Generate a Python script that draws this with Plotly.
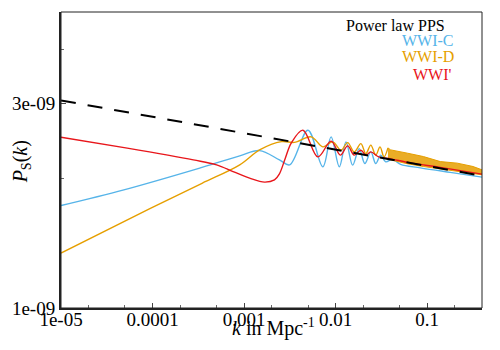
import plotly.graph_objects as go

# power law PPS (straight line in log-log)
pl_k = [1e-05, 0.3969]
pl_p = [3.043e-9, 2.031e-9]

# WWI-C
c_k = [1e-05, 4.860e-05, 0.0003468, 0.0008959, 0.001476, 0.002432, 0.003147, 0.004982,
       0.007246, 0.008915, 0.01097, 0.01297, 0.01533, 0.01807, 0.02084, 0.02421, 0.02743,
       0.03107, 0.03521, 0.04193, 0.05121, 0.08438, 0.1785, 0.3969]
c_p = [1.732e-9, 1.884e-9, 2.125e-9, 2.260e-9, 2.325e-9, 2.212e-9, 2.154e-9, 2.594e-9,
       2.131e-9, 2.503e-9, 2.131e-9, 2.436e-9, 2.151e-9, 2.350e-9, 2.169e-9, 2.309e-9,
       2.169e-9, 2.269e-9, 2.189e-9, 2.218e-9, 2.160e-9, 2.120e-9, 2.069e-9, 2.017e-9]

# WWI-D, resolved oscillations
d_k = [1e-05, 9.465e-05, 0.0003468, 0.0008959, 0.001476, 0.002557, 0.003538,
       0.00541, 0.007246, 0.009302, 0.01144, 0.01353, 0.01595, 0.01886, 0.02137, 0.02421,
       0.02743, 0.03054, 0.03375, 0.03729]
d_p = [1.342e-9, 1.706e-9, 1.951e-9, 2.154e-9, 2.334e-9, 2.440e-9, 2.430e-9,
       2.503e-9, 2.372e-9, 2.436e-9, 2.330e-9, 2.427e-9, 2.309e-9, 2.414e-9, 2.288e-9,
       2.394e-9, 2.269e-9, 2.372e-9, 2.248e-9, 2.359e-9]

# WWI-D, fast oscillations at high k: upper and lower envelope
du_k = [0.03729, 0.03989, 0.06099, 0.09095, 0.139, 0.2126, 0.317, 0.3969]
du_p = [2.359e-9, 2.334e-9, 2.293e-9, 2.252e-9, 2.192e-9, 2.174e-9, 2.135e-9, 2.097e-9]
dl_k = [0.03729, 0.03989, 0.06099, 0.09095, 0.139, 0.2126, 0.3969]
dl_p = [2.242e-9, 2.213e-9, 2.166e-9, 2.135e-9, 2.108e-9, 2.078e-9, 2.042e-9]

# WWI'
r_k = [1e-05, 5.290e-05, 2.791e-04, 5.007e-04, 7.578e-04, 1.150e-03, 1.673e-03, 2.147e-03,
       2.432e-03, 2.826e-03, 0.003283, 0.004397, 0.006395, 0.008915, 0.01125, 0.01353,
       0.01595, 0.01886, 0.02137, 0.02421, 0.02956, 0.03989, 0.06573, 0.139, 0.3969]
r_p = [2.498e-9, 2.356e-9, 2.212e-9, 2.154e-9, 2.078e-9, 2.006e-9, 1.964e-9, 1.988e-9,
       2.053e-9, 2.236e-9, 2.423e-9, 2.594e-9, 2.248e-9, 2.446e-9, 2.269e-9, 2.385e-9,
       2.269e-9, 2.330e-9, 2.269e-9, 2.309e-9, 2.248e-9, 2.224e-9, 2.177e-9, 2.125e-9,
       2.049e-9]

x_ticks = [1e-05, 1e-04, 1e-03, 1e-02, 1e-01]
x_ticktext = ["1e-05", "0.0001", "0.001", "0.01", "0.1"]
x_minor = [2e-05, 5e-05, 2e-04, 5e-04, 2e-03, 5e-03, 2e-02, 5e-02, 2e-01]
y_ticks = [1e-09, 3e-09]
y_ticktext = ["1e-09", "3e-09"]
y_minor = [2e-09, 4e-09]

BLUE = "#56b4e9"
ORANGE = "#e69f00"
RED = "#e8161b"
FONT = "Liberation Serif, Times New Roman, serif"

fig = go.Figure()
fig.add_trace(go.Scatter(x=c_k, y=c_p, mode="lines",
                         line=dict(color=BLUE, width=1.4, shape="spline")))
fig.add_trace(go.Scatter(x=d_k, y=d_p, mode="lines",
                         line=dict(color=ORANGE, width=1.4, shape="spline")))
fig.add_trace(go.Scatter(x=du_k + dl_k[::-1], y=du_p + dl_p[::-1], mode="lines",
                         fill="toself", fillcolor="rgba(230,159,0,0.85)",
                         line=dict(color=ORANGE, width=1)))
fig.add_trace(go.Scatter(x=r_k, y=r_p, mode="lines",
                         line=dict(color=RED, width=1.4, shape="spline")))
fig.add_trace(go.Scatter(x=pl_k, y=pl_p, mode="lines",
                         line=dict(color="black", width=2, dash="15px,12px")))

# legend written as coloured text, top right
legend = [("Power law PPS", "black", 0.918, 0.954),
          ("WWI-C", BLUE, 0.9387, 0.9037),
          ("WWI-D", ORANGE, 0.9387, 0.848),
          ("WWI'", RED, 0.934, 0.7905)]
for txt, col, lx, ly in legend:
    fig.add_annotation(text=txt, x=lx, y=ly, xref="paper", yref="paper",
                       xanchor="right", yanchor="middle", showarrow=False,
                       font=dict(family=FONT, size=16, color=col))

fig.add_annotation(text="<i>P</i><sub>S</sub>(<i>k</i>)", x=-0.0943, y=0.493,
                   xref="paper", yref="paper", textangle=-90, showarrow=False,
                   xanchor="center", yanchor="middle",
                   font=dict(family=FONT, size=20, color="black"))
fig.add_annotation(text="<i>k</i> in Mpc<sup>-1</sup>", x=0.505, y=-0.0642,
                   xref="paper", yref="paper", xanchor="center", yanchor="middle",
                   showarrow=False, font=dict(family=FONT, size=20, color="black"))

# thin frame on top and right
fig.add_shape(type="rect", xref="paper", yref="paper", x0=0, y0=0, x1=1, y1=1,
              line=dict(color="#222", width=1))

# the page body adds an 8px offset, so the figure is 8px smaller than the window
fig.update_layout(
    width=492, height=342,
    margin=dict(l=50, r=18, t=4, b=42),
    showlegend=False,
    font=dict(family=FONT, color="black"),
    plot_bgcolor="white", paper_bgcolor="white",
)
fig.update_xaxes(type="log", range=[-5, -0.40132], showgrid=False, zeroline=False,
                 showline=True, linewidth=2, linecolor="#222",
                 tickvals=x_ticks, ticktext=x_ticktext,
                 ticks="inside", ticklen=5, tickwidth=1, tickcolor="#444",
                 ticklabelstandoff=-7,
                 minor=dict(tickvals=x_minor, ticks="inside", ticklen=3, tickcolor="#666"),
                 tickfont=dict(family=FONT, size=19, color="black"))
fig.update_yaxes(type="log", range=[-9, -8.3109], showgrid=False, zeroline=False,
                 showline=True, linewidth=2, linecolor="#222",
                 tickvals=y_ticks, ticktext=y_ticktext,
                 ticks="inside", ticklen=5, tickwidth=1, tickcolor="#444",
                 minor=dict(tickvals=y_minor, ticks="inside", ticklen=3, tickcolor="#666"),
                 tickfont=dict(family=FONT, size=19, color="black"))

fig.write_html("out.html")
